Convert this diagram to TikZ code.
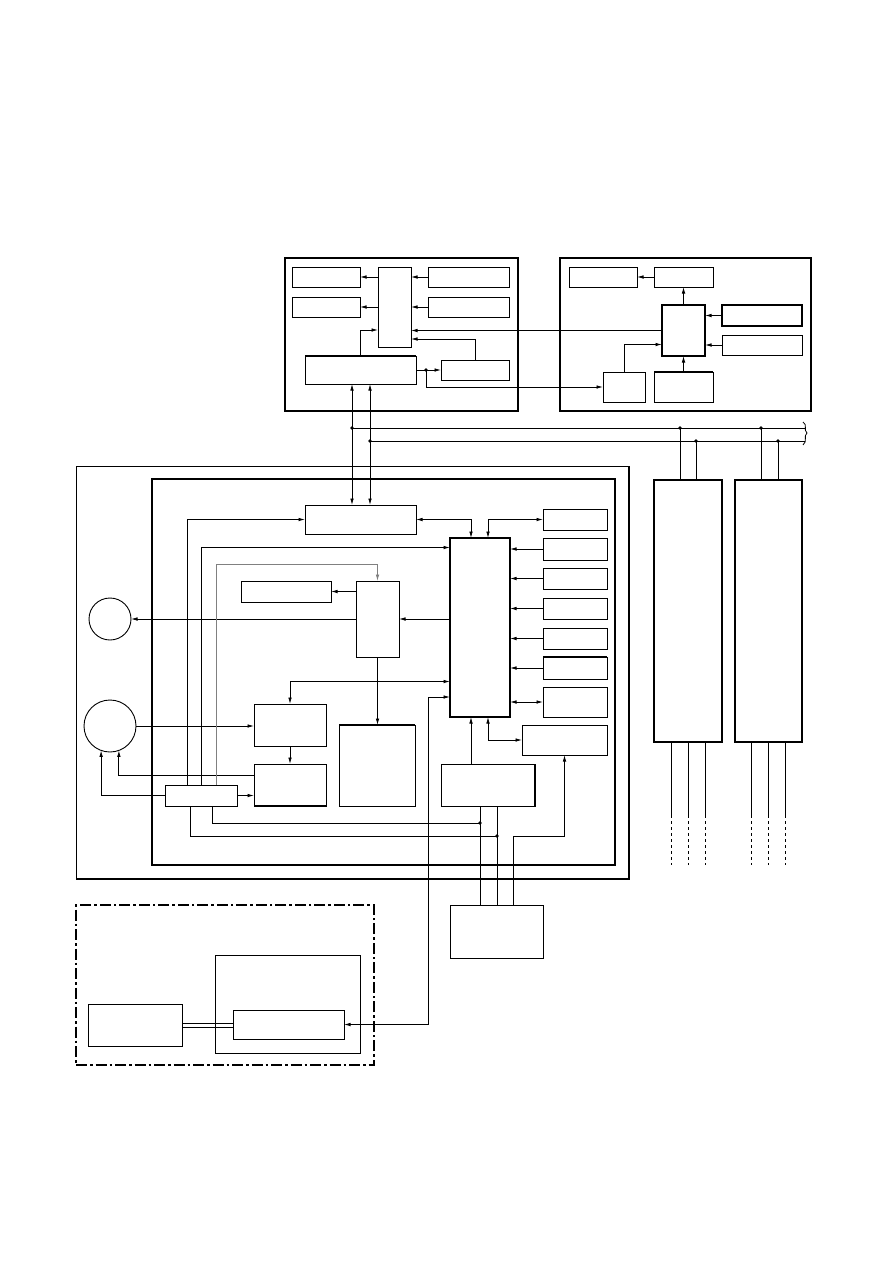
\documentclass[tikz,border=0pt]{standalone}
\usetikzlibrary{arrows.meta}
\begin{document}
\begin{tikzpicture}[x=1pt,y=-1pt,
    box/.style={draw, line width=0.9pt, inner sep=0pt, outer sep=0pt},
    heavy/.style={box, line width=1.7pt},
    ring/.style={draw, circle, line width=0.9pt, inner sep=0pt, outer sep=0pt},
    wire/.style={line width=0.8pt},
    arr/.style={wire, -{Latex[length=6.5pt,width=3.6pt]}},
    arrboth/.style={wire, {Latex[length=6.5pt,width=3.6pt]}-{Latex[length=6.5pt,width=3.6pt]}},
    dotdash/.style={line width=1.7pt, dash pattern=on 11pt off 3pt on 2.5pt off 3pt}]
        \path[use as bounding box, fill=white] (0,0) rectangle (894,1263);

        % upper left unit
        \node[heavy, minimum width=233pt, minimum height=153pt] (tlframe) at (401.5,334.5) {};
        \node[box, minimum width=68pt, minimum height=20pt] (ta1) at (326,277) {};
        \node[box, minimum width=68pt, minimum height=20pt] (ta2) at (326,307) {};
        \node[box, minimum width=33pt, minimum height=80pt] (tmux) at (394.5,307) {};
        \node[box, minimum width=81pt, minimum height=20pt] (tb1) at (468.5,277) {};
        \node[box, minimum width=81pt, minimum height=20pt] (tb2) at (468.5,307) {};
        \node[box, minimum width=111pt, minimum height=28pt] (tbif) at (360.5,370) {};
        \node[box, minimum width=68pt, minimum height=20pt] (tsm) at (475,370) {};
        \draw[line width=1.7pt] (tbif.north west) -- (tbif.north east);

        % upper right unit
        \node[box, line width=1.3pt, minimum width=251pt, minimum height=153pt] (trframe) at (685.5,334.5) {};
        \node[box, minimum width=68pt, minimum height=20pt] (rc1) at (603,277) {};
        \node[box, minimum width=59pt, minimum height=20pt] (rc2) at (683.5,277) {};
        \node[heavy, minimum width=43pt, minimum height=51pt] (rctl) at (683.5,330.5) {};
        \node[heavy, minimum width=80pt, minimum height=21pt] (rd1) at (762,315.5) {};
        \node[box, minimum width=80pt, minimum height=20pt] (rd2) at (762,345) {};
        \node[box, minimum width=42pt, minimum height=30pt] (re1) at (624,387) {};
        \node[box, minimum width=59pt, minimum height=30pt] (re2) at (683.5,387) {};
        \draw[line width=1.7pt] (re2.north west) -- (re2.north east);

        \draw[arr] (tmux.west|-ta1.east) -- (ta1.east);
        \draw[arr] (tmux.west|-ta2.east) -- (ta2.east);
        \draw[arr] (tb1.west) -- (tb1.west-|tmux.east);
        \draw[arr] (tb2.west) -- (tb2.west-|tmux.east);
        \draw[arr] (tbif.north) |- ([yshift=-23pt]tmux.west);
        \draw[arr] (tsm.north) |- ([yshift=-32pt]tmux.east);
        \draw[arr] (rctl.west) -- (rctl.west-|tmux.east);
        \coordinate (tdot) at ([xshift=10pt]tbif.east);
        \draw[arr] (tbif.east) -- (tsm.west);
        \draw[arr] (tdot) |- (re1.west);
        \fill (tdot) circle (1.8pt);

        \draw[arr] (rc2.west) -- (rc1.east);
        \draw[arr] (rctl.north) -- (rc2.south);
        \draw[arr] (rd1.west) -- (rd1.west-|rctl.east);
        \draw[arr] (rd2.west) -- (rd2.west-|rctl.east);
        \draw[arr] (re1.north) |- ([yshift=-14pt]rctl.west);
        \draw[arr] (re2.north) -- (rctl.south);

        % outside units
        \node[heavy, minimum width=68pt, minimum height=262pt] (f1) at (688,611) {};
        \node[heavy, minimum width=67pt, minimum height=262pt] (f2) at (768.5,611) {};
        \foreach \f in {f1,f2}{
            \foreach \dx in {-17,0,17}{
                \draw[wire] ([xshift=\dx pt]\f.south) -- ++(0,73) coordinate (e);
                \draw[wire, dashed] (e) -- ++(0,50);
            }
        }

        % main unit
        \node[box, minimum width=553pt, minimum height=413pt] (mframe) at (352.5,672.5) {};
        \draw[line width=1.7pt] (mframe.north east) -- (mframe.south east) -- (mframe.south west);
        \node[heavy, minimum width=463pt, minimum height=386pt] (iframe) at (383.5,672) {};

        \node[box, minimum width=111pt, minimum height=29pt] (gbif) at (360.5,519.5) {};
        \node[heavy, minimum width=60pt, minimum height=179pt] (cpu) at (480,627.5) {};
        \node[box, minimum width=64pt, minimum height=21pt] (r1) at (575,519.5) {};
        \node[box, minimum width=64pt, minimum height=22pt] (r2) at (575,549) {};
        \node[box, minimum width=64pt, minimum height=21pt] (r3) at (575,578.5) {};
        \node[box, minimum width=64pt, minimum height=21pt] (r4) at (575,608.5) {};
        \node[box, minimum width=64pt, minimum height=21pt] (r5) at (575,638.5) {};
        \node[box, minimum width=64pt, minimum height=22pt] (r6) at (575,668) {};
        \node[box, minimum width=64pt, minimum height=30pt] (r7) at (575,702) {};
        \node[box, minimum width=85pt, minimum height=30pt] (r8) at (564.5,740) {};
        \draw[line width=1.7pt] (r6.north west) -- (r6.north east);
        \node[box, minimum width=94pt, minimum height=42pt] (hbox) at (488,785) {};
        \draw[line width=1.5pt] (hbox.north east) -- (hbox.south east);
        \node[box, minimum width=43pt, minimum height=76pt] (drv) at (377.5,619) {};
        \node[box, minimum width=90pt, minimum height=21pt] (jbox) at (286,591.5) {};
        \node[box, minimum width=76pt, minimum height=81pt] (kbox) at (377,765.5) {};
        \draw[line width=1.7pt] (kbox.north west) -- (kbox.north east);
        \node[box, minimum width=72pt, minimum height=42pt] (l1) at (290,725) {};
        \node[box, minimum width=72pt, minimum height=42pt] (l2) at (290,785) {};
        \draw[line width=1.7pt] (l2.south west) -- (l2.south east);
        \node[box, minimum width=72pt, minimum height=21pt] (nbox) at (201,795.5) {};
        \node[ring, minimum size=42pt] (m1) at (110,619) {};
        \node[ring, minimum size=52pt] (m2) at (110,726) {};
        \node[box, minimum width=93pt, minimum height=53pt] (pbox) at (496.5,931.5) {};

        % bus
        \coordinate (busA) at (352,428);
        \coordinate (busB) at (370,441);
        \coordinate (busAend) at (805,428);
        \coordinate (busBend) at (805,441);
        \draw[arrboth] (busA|-tbif.south) -- (busA|-gbif.north);
        \draw[arrboth] (busB|-tbif.south) -- (busB|-gbif.north);
        \draw[wire] (busA) -- (busAend);
        \draw[wire] (busB) -- (busBend);
        \fill (busA) circle (1.8pt);
        \fill (busB) circle (1.8pt);
        \foreach \xa/\xb/\fb in {680/696/f1,761/778/f2}{
            \draw[wire] (\xa,428) coordinate (ta) -- (ta|-\fb.north);
            \draw[wire] (\xb,441) coordinate (tb) -- (tb|-\fb.north);
            \fill (\xa,428) circle (1.8pt);
            \fill (\xb,441) circle (1.8pt);
        }
        \draw[wire] (803,422) .. controls (808,425) and (803,430) .. (807,433)
            .. controls (803,436) and (808,441) .. (803,445);

        % main unit connections
        \draw[arrboth] (gbif.east) -| ([xshift=-9pt]cpu.north);
        \draw[arrboth] ([xshift=8pt]cpu.north) |- (r1.west);
        \draw[arr] (r2.west) -- (r2.west-|cpu.east);
        \draw[arr] (r3.west) -- (r3.west-|cpu.east);
        \draw[arr] (r4.west) -- (r4.west-|cpu.east);
        \draw[arr] (r5.west) -- (r5.west-|cpu.east);
        \draw[arr] (r6.west) -- (r6.west-|cpu.east);
        \draw[arrboth] (r7.west) -- (r7.west-|cpu.east);
        \draw[arrboth] ([xshift=8pt]cpu.south) |- (r8.west);
        \draw[arr] ([xshift=-9pt]cpu.south|-hbox.north) -- ([xshift=-9pt]cpu.south);

        \draw[arr] (cpu.west|-drv.east) -- (drv.east);
        \draw[arr] (drv.west) -- (m1.east);
        \draw[arr] (drv.west|-jbox.east) -- (jbox.east);
        \draw[arr] (drv.south) -- (drv.south|-kbox.north);
        \draw[arrboth] (l1.north) |- ([yshift=-54pt]cpu.west);
        \draw[arr] (m2.east) -- (m2.east-|l1.west);
        \draw[arr] (l1.south) -- (l2.north);
        \draw[arr] ([yshift=10pt]l2.west) -| (m2.-70);
        \draw[arr] (nbox.east) -- (nbox.east-|l2.west);
        \draw[arr] (nbox.west) -| (m2.-110);

        \draw[arr] ([xshift=-14pt]nbox.north) |- (gbif.west);
        \draw[arr] (nbox.north) |- ([yshift=80pt]cpu.west);
        \coordinate (gk) at ([yshift=17pt]drv.north);
        \draw[arr, gray] ([xshift=15pt]nbox.north) |- (gk) -- (drv.north);

        \coordinate (dA) at (480,823);
        \coordinate (dB) at (497,836);
        \coordinate (pk) at (513,836);
        \draw[wire] ([xshift=11pt]nbox.south) |- (dA);
        \draw[wire] ([xshift=-11pt]nbox.south) |- (dB);
        \draw[wire] ([xshift=-8pt]hbox.south) -- ([xshift=-8pt]hbox.south|-pbox.north);
        \draw[wire] ([xshift=9pt]hbox.south) -- ([xshift=9pt]hbox.south|-pbox.north);
        \fill (dA) circle (1.8pt);
        \fill (dB) circle (1.8pt);
        \draw[arr] (pk|-pbox.north) -- (pk) -| (r8.south);

        % optional unit
        \node[draw, dotdash, inner sep=0pt, outer sep=0pt, minimum width=298pt, minimum height=160pt] (dframe) at (225,985) {};
        \node[box, minimum width=94pt, minimum height=42pt] (q1) at (135,1025) {};
        \node[box, minimum width=145pt, minimum height=98pt] (q2) at (287.5,1004) {};
        \node[box, minimum width=111pt, minimum height=29pt] (q3) at (288.5,1024.5) {};
        \draw[wire] ([yshift=2pt]q1.east) -- ([yshift=2pt]q1.east-|q3.west);
        \draw[wire] ([yshift=-2pt]q1.east) -- ([yshift=-2pt]q1.east-|q3.west);
        \coordinate (dl) at (428,697);
        \draw[arrboth] (q3.east) -| (dl) -- (dl-|cpu.west);
    \end{tikzpicture}
\end{document}
